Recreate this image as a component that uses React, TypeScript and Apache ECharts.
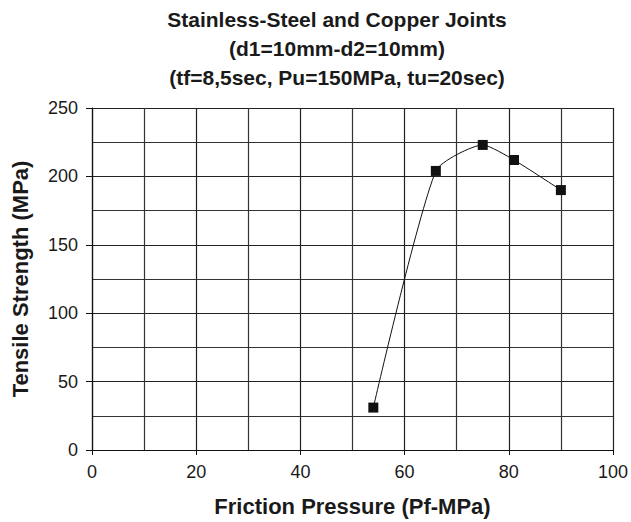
import React, { useEffect, useRef } from "react";
import * as echarts from "echarts";

const titleLines = [
  "Stainless-Steel and Copper Joints",
  "(d1=10mm-d2=10mm)",
  "(tf=8,5sec, Pu=150MPa, tu=20sec)",
];
const xName = "Friction Pressure (Pf-MPa)";
const yName = "Tensile Strength (MPa)";
const frictionPressure = [54, 66, 75, 81, 90];
const tensileStrength = [31, 204, 223, 212, 190];

const FONT = "'Liberation Sans', Arial, Helvetica, sans-serif";

export default function App() {
  const ref = useRef<HTMLDivElement>(null);
  useEffect(() => {
    if (!ref.current) return;
    const chart = echarts.init(ref.current, undefined, { renderer: "svg" });
    const data = frictionPressure.map((x, i) => [x, tensileStrength[i]]);
    chart.setOption({
      animation: false,
      backgroundColor: "#ffffff",
      textStyle: { fontFamily: FONT },
      title: {
        text: titleLines.join("\n"),
        left: 337,
        top: 5,
        padding: 0,
        textAlign: "center",
        textStyle: {
          fontFamily: FONT,
          fontSize: 21,
          fontWeight: "bold",
          lineHeight: 29,
          color: "#1a1a1a",
        },
      },
      grid: { left: 92, right: 18, top: 108, bottom: 70, containLabel: false },
      xAxis: {
        type: "value",
        min: 0,
        max: 100,
        interval: 20,
        name: xName,
        nameLocation: "middle",
        nameGap: 45,
        nameTextStyle: { fontFamily: FONT, fontSize: 22, fontWeight: "bold", color: "#1a1a1a" },
        axisLine: { show: true, lineStyle: { color: "#111", width: 1.2 } },
        axisTick: { show: true, length: 5, lineStyle: { color: "#111" } },
        axisLabel: { margin: 13, fontSize: 18, color: "#1a1a1a", fontFamily: FONT },
        splitLine: { show: true, lineStyle: { color: "#222", width: 1.2 } },
        minorTick: { show: false, splitNumber: 2 },
        minorSplitLine: { show: true, lineStyle: { color: "#333", width: 1.2 } },
      },
      yAxis: {
        type: "value",
        min: 0,
        max: 250,
        interval: 50,
        name: yName,
        nameLocation: "middle",
        nameGap: 61,
        nameRotate: 90,
        nameTextStyle: { fontFamily: FONT, fontSize: 22, fontWeight: "bold", color: "#1a1a1a" },
        axisLine: { show: true, lineStyle: { color: "#111", width: 1.2 } },
        axisTick: { show: true, length: 6, lineStyle: { color: "#111" } },
        axisLabel: { margin: 14, fontSize: 18, color: "#1a1a1a", fontFamily: FONT },
        splitLine: { show: true, lineStyle: { color: "#222", width: 1.2 } },
        minorTick: { show: false, splitNumber: 2 },
        minorSplitLine: { show: true, lineStyle: { color: "#333", width: 1.2 } },
      },
      series: [
        {
          type: "line",
          data,
          smooth: 0.2,
          symbol: "rect",
          symbolSize: 10,
          itemStyle: { color: "#111" },
          lineStyle: { color: "#111", width: 1 },
        },
      ],
    });
    return () => chart.dispose();
  }, []);
  return (
    <div
      ref={ref}
      style={{ position: "fixed", left: 0, top: 0, width: 631, height: 522, background: "#fff" }}
    />
  );
}
